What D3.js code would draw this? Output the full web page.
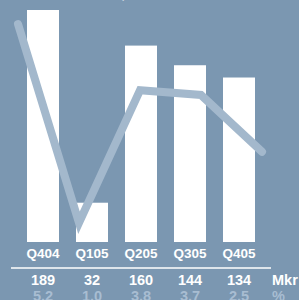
<!DOCTYPE html>
<html>
<head>
<meta charset="utf-8">
<script src="https://cdn.jsdelivr.net/npm/d3@7"></script>
<style>
  html, body { margin: 0; padding: 0; background: #7b97b1; overflow: hidden; }
  svg { display: block; }
</style>
</head>
<body>
<div id="chart"></div>
<script>
// data
const quarters = ['Q404', 'Q105', 'Q205', 'Q305', 'Q405'];
const profit = [189, 32, 160, 144, 134];          // Mkr
const margin = [5.2, 1.0, 3.8, 3.7, 2.5];         // %
const valueLabels = ['189', '32', '160', '144', '134'];
const marginLabels = ['5.2', '1.0', '3.8', '3.7', '2.5'];

const W = 299, H = 300;
const bg = '#7b97b1';
const lineColor = '#a3b8cc';
const font = '"Liberation Sans", Arial, sans-serif';

const svg = d3.select('#chart')
    .append('svg')
    .attr('width', W)
    .attr('height', H);

svg.append('rect')
    .attr('width', W)
    .attr('height', H)
    .attr('fill', bg);

// title is cut off at the top edge of the picture
svg.append('text')
    .attr('x', 12)
    .attr('y', -2)
    .attr('fill', '#fff')
    .attr('font-family', font)
    .attr('font-weight', 'bold')
    .attr('font-size', 15)
    .text('Rörelseresultat, Mkr');

// scales
const x = d3.scaleBand()
    .domain(quarters)
    .range([18.5, 263.5])
    .paddingInner(0.347)
    .paddingOuter(0.1735);

const y = d3.scaleLinear()
    .domain([0, 189])
    .range([242, 10]);

const xLine = d3.scalePoint()
    .domain(quarters)
    .range([18, 262]);

const yPct = d3.scaleLinear()
    .domain([0, 5.2])
    .range([270, 24]);

// bars
svg.append('g')
    .selectAll('rect')
    .data(quarters)
    .enter()
    .append('rect')
    .attr('x', d => x(d))
    .attr('width', x.bandwidth())
    .attr('y', (d, i) => y(profit[i]))
    .attr('height', (d, i) => y(0) - y(profit[i]))
    .attr('fill', '#ffffff');

// margin line
const line = d3.line()
    .x((d, i) => xLine(quarters[i]))
    .y(d => yPct(d));

svg.append('path')
    .datum(margin)
    .attr('d', line)
    .attr('fill', 'none')
    .attr('stroke', lineColor)
    .attr('stroke-width', 8)
    .attr('stroke-linecap', 'round')
    .attr('stroke-linejoin', 'miter');

// quarter labels
const cx = d => x(d) + x.bandwidth() / 2;

svg.append('g')
    .selectAll('text')
    .data(quarters)
    .enter()
    .append('text')
    .attr('x', cx)
    .attr('y', 258)
    .attr('text-anchor', 'middle')
    .attr('fill', '#fff')
    .attr('font-family', font)
    .attr('font-weight', 'bold')
    .attr('font-size', 13.5)
    .text(d => d);

// separator
svg.append('line')
    .attr('x1', 11)
    .attr('x2', 271)
    .attr('y1', 268)
    .attr('y2', 268)
    .attr('stroke', '#fff')
    .attr('stroke-width', 1.6);

// value row
svg.append('g')
    .selectAll('text')
    .data(quarters)
    .enter()
    .append('text')
    .attr('x', cx)
    .attr('y', 284.5)
    .attr('text-anchor', 'middle')
    .attr('fill', '#fff')
    .attr('font-family', font)
    .attr('font-weight', 'bold')
    .attr('font-size', 14.5)
    .text((d, i) => valueLabels[i]);

// margin row
svg.append('g')
    .selectAll('text')
    .data(quarters)
    .enter()
    .append('text')
    .attr('x', cx)
    .attr('y', 300.5)
    .attr('text-anchor', 'middle')
    .attr('fill', '#a8bdd2')
    .attr('font-family', font)
    .attr('font-weight', 'bold')
    .attr('font-size', 14.5)
    .text((d, i) => marginLabels[i]);

// units
svg.append('text')
    .attr('x', 272)
    .attr('y', 284.5)
    .attr('fill', '#fff')
    .attr('font-family', font)
    .attr('font-weight', 'bold')
    .attr('font-size', 14.5)
    .text('Mkr');

svg.append('text')
    .attr('x', 272)
    .attr('y', 300.5)
    .attr('fill', '#a8bdd2')
    .attr('font-family', font)
    .attr('font-weight', 'bold')
    .attr('font-size', 14.5)
    .text('%');
</script>
</body>
</html>
